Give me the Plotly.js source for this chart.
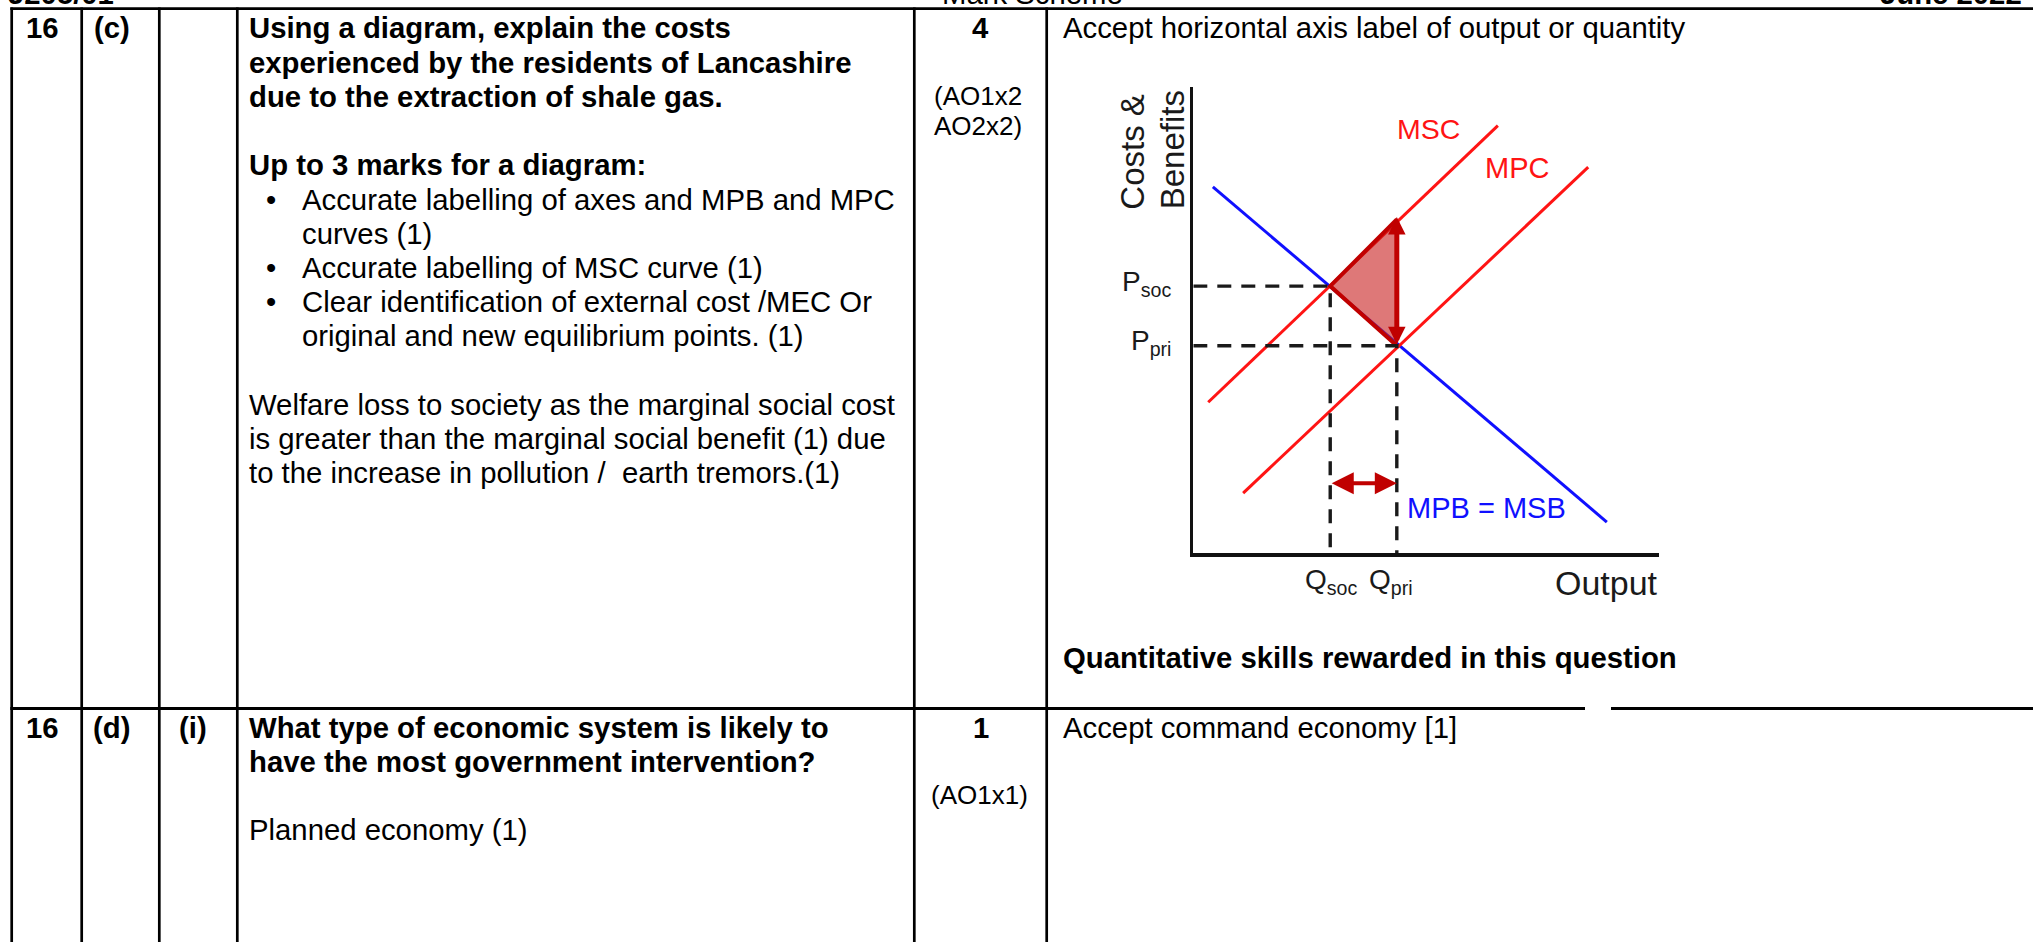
<!DOCTYPE html>
<html><head><meta charset="utf-8">
<script src="https://cdn.plot.ly/plotly-3.0.1.min.js"></script>
<style>html,body{margin:0;padding:0;background:#fff;overflow:hidden}#chart{width:2033px;height:942px}</style>
</head><body><div id="chart"></div>
<script>
// ---------- diagram data (output units / cost units) ----------
const mscX = [0.32, 6.54], mscY = [3.24, 9.17];
const mpcX = [1.07, 8.48], mpcY = [1.29, 8.28];
const mpbX = [0.42, 8.88], mpbY = [7.86, 0.67];
const curveLabels = ['MSC', 'MPC', 'MPB = MSB'];
const qValues = [2.94, 4.37];
const qLabels = ['Q<sub>soc</sub>', 'Q<sub>pri</sub>'];
const pValues = [5.73, 4.45];
const pLabels = ['P<sub>soc</sub>', 'P<sub>pri</sub>'];
const mscAtQpri = 7.16;
const gapLevel = 1.5;
const axisLabels = ['Costs &', 'Benefits', 'Output'];

// ---------- table text ----------
const headerTexts = ['J205/01', 'Mark Scheme', 'June 2022'];
const row1Cells = ['16', '(c)', ''];
const row2Cells = ['16', '(d)', '(i)'];
const q1Heading = ['Using a diagram, explain the costs', 'experienced by the residents of Lancashire', 'due to the extraction of shale gas.'];
const q1Sub = 'Up to 3 marks for a diagram:';
const q1Bullets = [['Accurate labelling of axes and MPB and MPC', 'curves (1)'], ['Accurate labelling of MSC curve (1)'], ['Clear identification of external cost /MEC Or', 'original and new equilibrium points. (1)']];
const q1Answer = ['Welfare loss to society as the marginal social cost', 'is greater than the marginal social benefit (1) due', 'to the increase in pollution /\u00a0 earth tremors.(1)'];
const q1Marks = ['4', '(AO1x2', 'AO2x2)'];
const q1Guidance = ['Accept horizontal axis label of output or quantity', 'Quantitative skills rewarded in this question'];
const q2Heading = ['What type of economic system is likely to', 'have the most government intervention?'];
const q2Answer = 'Planned economy (1)';
const q2Marks = ['1', '(AO1x1)'];
const q2Guidance = ['Accept command economy [1]'];

// ---------- page geometry ----------
const W = 2033, H = 942;
const FONT = 'Liberation Sans, Arial, sans-serif';
const FS = 29.3, PITCH = 34.2;
const PX = v => v / W, PY = v => 1 - v / H;

const ann = [];
function txt(x, y, text, o) {
  o = o || {};
  ann.push({xref: 'paper', yref: 'paper', x: PX(x), y: PY(y), text: o.bold ? '<b>' + text + '</b>' : text,
    showarrow: false, xanchor: o.anchor || 'left', yanchor: 'middle', align: o.anchor || 'left',
    font: {family: FONT, size: o.size || FS, color: o.color || '#000'}});
}

// header (cut at top edge)
txt(6, -6.5, headerTexts[0], {bold: true});
txt(1032, -6.5, headerTexts[1], {anchor: 'center'});
txt(1878, -6.5, headerTexts[2], {bold: true});

// row 1
const r1 = 28, r2 = 727;
const cellCenters = [42.5, 111.8, 193.3];
row1Cells.forEach((t, i) => { if (t) txt(cellCenters[i], r1, t, {bold: true, anchor: 'center'}); });
row2Cells.forEach((t, i) => { if (t) txt(cellCenters[i], r2, t, {bold: true, anchor: 'center'}); });

const qx = 247, bx = 271, bt = 300;
q1Heading.forEach((t, i) => txt(qx, r1 + i * PITCH, t, {bold: true}));
txt(qx, r1 + 4 * PITCH, q1Sub, {bold: true});
let li = 5;
q1Bullets.forEach(b => {
  txt(bx, r1 + li * PITCH, '\u2022', {anchor: 'center'});
  b.forEach(t => { txt(bt, r1 + li * PITCH, t); li++; });
});
q1Answer.forEach((t, i) => txt(qx, r1 + (11 + i) * PITCH, t));

txt(980.5, r1, q1Marks[0], {bold: true, anchor: 'center'});
txt(977.5, 96, q1Marks[1], {anchor: 'center', size: 26});
txt(978, 126, q1Marks[2], {anchor: 'center', size: 26});
txt(1061, r1, q1Guidance[0]);
txt(1061, 657, q1Guidance[1], {bold: true});

q2Heading.forEach((t, i) => txt(qx, r2 + i * PITCH, t, {bold: true}));
txt(qx, r2 + 3 * PITCH, q2Answer);
txt(980.5, r2, q2Marks[0], {bold: true, anchor: 'center'});
txt(979.5, 795, q2Marks[1], {anchor: 'center', size: 26});
txt(1061, r2, q2Guidance[0]);

// table rules
const shapes = [];
function rule(x0, y0, x1, y1, w) {
  shapes.push({type: 'line', xref: 'paper', yref: 'paper', x0: PX(x0), y0: PY(y0), x1: PX(x1), y1: PY(y1),
    line: {color: '#000', width: w || 2.7}, layer: 'above'});
}
[11.7, 81.7, 159.3, 237.3, 914.3, 1046.7].forEach(x => rule(x, 7.5, x, H + 2));
rule(10.3, 8.7, W + 2, 8.7, 2.8);
rule(10.3, 708.5, 1585, 708.5, 2.8);
rule(1611, 708.5, W + 2, 708.5, 2.8);

// ---------- diagram ----------
const RED = '#ff1414', DARK = '#c00000', BLUE = '#1010ff', INK = '#1a1a1a';
const dash = {color: INK, width: 3.4, dash: '14px,10px'};
const traces = [
  {x: mpbX, y: mpbY, mode: 'lines', line: {color: BLUE, width: 3}, name: curveLabels[2]},
  {x: mscX, y: mscY, mode: 'lines', line: {color: RED, width: 3}, name: curveLabels[0]},
  {x: mpcX, y: mpcY, mode: 'lines', line: {color: RED, width: 3}, name: curveLabels[1]},
  {x: [qValues[0], qValues[1], qValues[1], qValues[0]], y: [pValues[0], mscAtQpri, pValues[1], pValues[0]],
   mode: 'lines', fill: 'toself', fillcolor: 'rgba(200,30,30,0.6)', line: {width: 0}},
  {x: [qValues[1], qValues[0], qValues[1]], y: [mscAtQpri, pValues[0], pValues[1]], mode: 'lines',
   line: {color: DARK, width: 4}},
  {x: [0, qValues[0], qValues[0]], y: [pValues[0], pValues[0], 0], mode: 'lines', line: dash},
  {x: [0, qValues[1], qValues[1]], y: [pValues[1], pValues[1], 0], mode: 'lines', line: dash}
];
traces.forEach(t => { t.type = 'scatter'; t.hoverinfo = 'skip'; t.showlegend = false; t.cliponaxis = false; });

const dAnn = [];
function lab(x, y, text, o) {
  dAnn.push(Object.assign({xref: 'x', yref: 'y', x: x, y: y, text: text, showarrow: false,
    xanchor: 'center', yanchor: 'middle', font: {family: FONT, size: o.size || 29, color: o.color || INK}}, o.extra || {}));
}
lab(5.04, 9.10, curveLabels[0], {color: RED, size: 28.5});
lab(6.96, 8.26, curveLabels[1], {color: RED});
lab(6.29, 0.97, curveLabels[2], {color: BLUE});
lab(0, 8.62, axisLabels[0], {size: 33, extra: {textangle: -90, xshift: -61}});
lab(0, 8.65, axisLabels[1], {size: 33, extra: {textangle: -90, xshift: -20}});
lab(8.88, 0, axisLabels[2], {size: 34, extra: {yshift: -30}});
pLabels.forEach((t, i) => lab(0, pValues[i], t, {size: 28, extra: {xanchor: 'right', xshift: -20, yshift: 3}}));
qLabels.forEach((t, i) => lab(qValues[i], 0, t, {size: 28, extra: {yshift: -28, xshift: i ? -6 : 1}}));

// arrows
dAnn.push({xref: 'x', yref: 'y', axref: 'x', ayref: 'y', x: qValues[1], y: mscAtQpri + 0.05, ax: qValues[1], ay: pValues[1],
  text: '', showarrow: true, arrowside: 'end+start', arrowhead: 2, startarrowhead: 2, arrowsize: 0.7, startarrowsize: 0.7,
  arrowwidth: 5, arrowcolor: DARK, standoff: 0, startstandoff: 0});
dAnn.push({xref: 'x', yref: 'y', axref: 'x', ayref: 'y', x: qValues[1], y: gapLevel, ax: qValues[0], ay: gapLevel,
  text: '', showarrow: true, arrowside: 'end+start', arrowhead: 2, startarrowhead: 2, arrowsize: 1.1, startarrowsize: 1.1,
  arrowwidth: 4, arrowcolor: DARK, standoff: 0, startstandoff: 0});

const axisCommon = {range: [0, 10], showgrid: false, zeroline: false, showticklabels: false, ticks: '',
  showline: true, linecolor: '#111', linewidth: 3.5, fixedrange: true};
const layout = {
  width: W, height: H, margin: {l: 0, r: 0, t: 0, b: 0, pad: 0},
  paper_bgcolor: '#fff', plot_bgcolor: 'rgba(0,0,0,0)', showlegend: false,
  xaxis: Object.assign({domain: [PX(1193.3), PX(1659)]}, axisCommon),
  yaxis: Object.assign({domain: [PY(553.3), PY(87)]}, axisCommon),
  shapes: shapes,
  annotations: ann.concat(dAnn)
};
Plotly.newPlot('chart', traces, layout, {staticPlot: true, displayModeBar: false});
</script></body></html>
